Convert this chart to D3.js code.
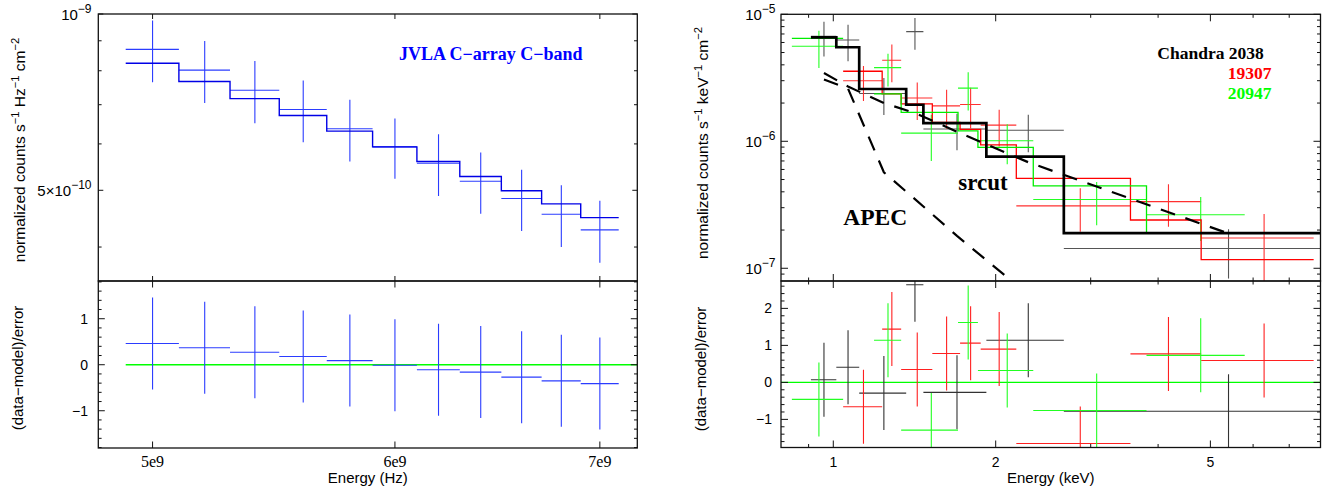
<!DOCTYPE html>
<html>
<head>
<meta charset="utf-8">
<script src="https://cdn.jsdelivr.net/npm/d3@7"></script>
<style>
body { margin: 0; background: #fff; }
svg { display: block; }
text { white-space: pre; }
</style>
</head>
<body>
<svg id="chart" width="1330" height="487"></svg>
<script>
// ---- radio (JVLA) spectrum, left panel ----
var radioFreq = [5.0e9, 5.2e9, 5.4e9, 5.6e9, 5.8e9, 6.0e9, 6.2e9, 6.4e9, 6.6e9, 6.8e9, 7.0e9];
var radioHalfWidth = 0.1e9;
var radioFlux = [8.70e-10, 8.02e-10, 7.41e-10, 6.87e-10, 6.37e-10, 5.93e-10, 5.56e-10, 5.18e-10, 4.84e-10, 4.55e-10, 4.28e-10];
var radioErr = [1.05e-10, 0.97e-10, 0.90e-10, 0.83e-10, 0.77e-10, 0.70e-10, 0.67e-10, 0.62e-10, 0.58e-10, 0.55e-10, 0.52e-10];
var radioModel = [8.24e-10, 7.67e-10, 7.17e-10, 6.71e-10, 6.31e-10, 5.93e-10, 5.60e-10, 5.28e-10, 4.99e-10, 4.74e-10, 4.49e-10];
var radioResid = [0.46, 0.37, 0.27, 0.18, 0.09, -0.01, -0.11, -0.16, -0.27, -0.35, -0.41];

// ---- X-ray spectra, right panel (keV) ----
// Chandra 2038 (black)
var obs2038Lo = [0.909, 1.013, 1.117, 1.365, 1.469, 1.922, 2.675];
var obs2038Hi = [1.013, 1.117, 1.365, 1.469, 1.922, 2.675, 8.13];
var obs2038Flux = [6.7e-6, 6.27e-6, 2.38e-6, 7.3e-6, 1.25e-6, 1.22e-6, 1.43e-7];
var obs2038Err = [2.05e-6, 2.0e-6, 0.77e-6, 2.05e-6, 0.40e-6, 0.40e-6, 0.6e-7];
var obs2038Model = [6.59e-6, 5.50e-6, 2.58e-6, 1.94e-6, 1.39e-6, 7.56e-7, 1.89e-7];
var obs2038Resid = [0.07, 0.41, -0.29, 2.64, -0.27, 1.14, -0.78];
// 19307 (red)
var obs19307Lo = [1.043, 1.232, 1.336, 1.526, 1.718, 1.876, 2.184, 3.555, 4.807];
var obs19307Hi = [1.232, 1.336, 1.526, 1.718, 1.876, 2.184, 3.555, 4.807, 7.77];
var obs19307Flux = [3.0e-6, 4.35e-6, 2.19e-6, 1.9e-6, 1.95e-6, 1.34e-6, 3.1e-7, 3.35e-7, 1.73e-7];
var obs19307Err = [0.92e-6, 1.43e-6, 0.72e-6, 0.645e-6, 0.69e-6, 0.43e-6, 1.16e-7, 1.23e-7, 0.94e-7];
var obs19307Model = [3.56e-6, 2.36e-6, 1.97e-6, 1.41e-6, 1.24e-6, 9.37e-7, 5.1e-7, 2.40e-7, 1.17e-7];
var obs19307Resid = [-0.66, 1.44, 0.35, 0.78, 1.06, 0.90, -1.65, 0.77, 0.59];
// 20947 (green)
var obs20947Lo = [0.838, 1.190, 1.336, 1.703, 1.854, 2.348, 3.807];
var obs20947Hi = [1.043, 1.336, 1.703, 1.854, 2.348, 3.807, 5.789];
var obs20947Flux = [5.6e-6, 3.8e-6, 1.16e-6, 2.62e-6, 1.01e-6, 3.48e-7, 2.64e-7];
var obs20947Err = [1.83e-6, 1.1e-6, 0.46e-6, 0.87e-6, 0.35e-6, 1.3e-7, 1.0e-7];
var obs20947Model = [6.47e-6, 2.36e-6, 1.69e-6, 1.21e-6, 8.95e-7, 4.45e-7, 1.89e-7];
var obs20947Resid = [-0.46, 1.14, -1.29, 1.62, 0.32, -0.76, 0.73];
// model components (evaluated at the 2038 bin centres)
var compEnergy = [0.961, 1.065, 1.241, 1.417, 1.6955, 2.2985, 5.40];
var srcutFlux = [3.45e-6, 2.70e-6, 2.0e-6, 1.67e-6, 1.19e-6, 6.84e-7, 1.88e-7];
var apecFlux = [3.07e-6, 2.60e-6, 5.7e-7, 3.5e-7, 1.8e-7, 6.2e-8];

// ---- ticks ----
var radioYMajor = [5e-10, 1e-9];
var radioYMinor = [4e-10, 6e-10, 7e-10, 8e-10, 9e-10];
var radioXTicks = [5e9, 6e9, 7e9];
var radioXLabels = ["5e9", "6e9", "7e9"];
var xrayYMajor = [1e-7, 1e-6, 1e-5];
var xrayYMinor = [9e-8, 2e-7, 3e-7, 4e-7, 5e-7, 6e-7, 7e-7, 8e-7, 9e-7, 2e-6, 3e-6, 4e-6, 5e-6, 6e-6, 7e-6, 8e-6, 9e-6];
var xrayXMajor = [1, 2, 5];
var xrayXMinor = [0.9, 3, 4, 6, 7, 8];
var radioResMajor = [-1, 0, 1];
var xrayResMajor = [-1, 0, 1, 2];

var svg = d3.select("#chart");
var SANS = "Liberation Sans, Arial, sans-serif";
var SERIF = "Liberation Serif, Times New Roman, serif";

// panel boxes
var L = { x0: 98.3, x1: 637.3, top: 14, mid: 281, bot: 448 };
var R = { x0: 781, x1: 1320.5, top: 14.3, mid: 281, bot: 447.5 };

var xL = d3.scaleLog().domain([4.8e9, 7.2e9]).range([L.x0, L.x1]);
var yL = d3.scaleLog().domain([3.5e-10, 1e-9]).range([L.mid, L.top]);
var rL = d3.scaleLinear().domain([-1.81, 1.82]).range([L.bot, L.mid]);
var xR = d3.scaleLog().domain([0.8, 8.0]).range([R.x0, R.x1]);
var yR = d3.scaleLog().domain([7.94e-8, 1e-5]).range([R.mid, R.top]);
var rR = d3.scaleLinear().domain([-1.76, 2.74]).range([R.bot, R.mid]);

var defs = svg.append("defs");
function clip(id, x0, x1, y0, y1) {
    defs.append("clipPath").attr("id", id).append("rect")
        .attr("x", x0).attr("y", y0).attr("width", x1 - x0).attr("height", y1 - y0);
    return svg.append("g").attr("clip-path", "url(#" + id + ")");
}

function seg(g, x1, y1, x2, y2, color, w) {
    g.append("line").attr("x1", x1).attr("y1", y1).attr("x2", x2).attr("y2", y2)
        .attr("stroke", color).attr("stroke-width", w);
}

// data crosses: bin width horizontally, error vertically
function crosses(g, lo, hi, val, err, x, y, color) {
    for (var i = 0; i < lo.length; i++) {
        var c = (lo[i] + hi[i]) / 2;
        var e = err ? err[i] : 1;
        seg(g, x(lo[i]), y(val[i]), x(hi[i]), y(val[i]), color, 1.1);
        seg(g, x(c), y(val[i] - e), x(c), y(val[i] + e), color, 1.1);
    }
}

// model histogram, broken where bins are not adjacent
function steps(g, lo, hi, m, x, y, color, w) {
    var d = "";
    for (var i = 0; i < lo.length; i++) {
        var joined = i > 0 && Math.abs(lo[i] - hi[i - 1]) < 0.01 * lo[i];
        d += (joined ? "L" : "M") + x(lo[i]) + "," + y(m[i]) + "H" + x(hi[i]);
    }
    g.append("path").attr("d", d).attr("fill", "none").attr("stroke", color).attr("stroke-width", w);
}

function richText(g, x, y, parts, size, anchor, supRatio) {
    var ratio = supRatio || 0.72;
    var t = g.append("text").attr("x", x).attr("y", y).attr("font-size", size)
        .attr("text-anchor", anchor).attr("font-family", SANS).attr("fill", "#000");
    var up = false;
    parts.forEach(function (p) {
        var s = typeof p === "string" ? { t: p, sup: false } : p;
        var ts = t.append("tspan").text(s.t);
        if (s.sup) {
            ts.attr("font-size", size * ratio);
            if (!up) { ts.attr("dy", -size * 0.42); up = true; }
        } else if (up) {
            ts.attr("dy", size * 0.42); up = false;
        }
    });
    return t;
}

// frame + inward ticks for one panel
function frame(P, yTop, yBot, xScale, xMaj, xMin, yScale, yMaj, yMin, majLen, minLen) {
    var g = svg.append("g");
    var st = "#111";
    xMaj.forEach(function (v) {
        seg(g, xScale(v), yTop, xScale(v), yTop + majLen, st, 1);
        seg(g, xScale(v), yBot, xScale(v), yBot - majLen, st, 1);
    });
    xMin.forEach(function (v) {
        seg(g, xScale(v), yTop, xScale(v), yTop + minLen, st, 1);
        seg(g, xScale(v), yBot, xScale(v), yBot - minLen, st, 1);
    });
    yMaj.forEach(function (v) {
        seg(g, P.x0, yScale(v), P.x0 + majLen, yScale(v), st, 1);
        seg(g, P.x1, yScale(v), P.x1 - majLen, yScale(v), st, 1);
    });
    yMin.forEach(function (v) {
        seg(g, P.x0, yScale(v), P.x0 + minLen, yScale(v), st, 1);
        seg(g, P.x1, yScale(v), P.x1 - minLen, yScale(v), st, 1);
    });
    g.append("rect").attr("x", P.x0).attr("y", yTop).attr("width", P.x1 - P.x0).attr("height", yBot - yTop)
        .attr("fill", "none").attr("stroke", st).attr("stroke-width", 1.3);
}

function resMinor(lo, hi) {
    var out = [];
    for (var v = Math.ceil(lo * 5); v <= Math.floor(hi * 5); v++) {
        if (v % 5 !== 0) out.push(v / 5);
    }
    return out;
}

// ================= LEFT: radio =================
var gL = clip("clipLT", L.x0, L.x1, L.top, L.mid);
var radioLo = radioFreq.map(function (f) { return f - radioHalfWidth; });
var radioHi = radioFreq.map(function (f) { return f + radioHalfWidth; });
crosses(gL, radioLo, radioHi, radioFlux, radioErr, xL, yL, "#2b3cff");
steps(gL, radioLo, radioHi, radioModel, xL, yL, "#0000e6", 1.4);

var gLr = clip("clipLB", L.x0, L.x1, L.mid, L.bot);
seg(gLr, xL(radioLo[0]), rL(0), L.x1, rL(0), "#00ff00", 1.3);
crosses(gLr, radioLo, radioHi, radioResid, null, xL, rL, "#2b3cff");

frame(L, L.top, L.mid, xL, radioXTicks, [], yL, radioYMajor, radioYMinor, 5, 3.3);
frame(L, L.mid, L.bot, xL, radioXTicks, [], rL, radioResMajor, resMinor(-1.81, 1.82), 6.5, 3.3);

// left labels
richText(svg, 91.5, yL(1e-9) + 5.5, ["10", { t: "−9", sup: true }], 15, "end", 0.8);
richText(svg, 91.5, yL(5e-10) + 5.5, ["5×10", { t: "−10", sup: true }], 15, "end", 0.8);
radioResMajor.forEach(function (v) {
    svg.append("text").attr("x", 88).attr("y", rL(v) + 5).attr("text-anchor", "end")
        .attr("font-family", SANS).attr("font-size", 14).text(v < 0 ? "−" + (-v) : String(v));
});
radioXTicks.forEach(function (v, i) {
    svg.append("text").attr("x", xL(v)).attr("y", 467).attr("text-anchor", "middle")
        .attr("font-family", SERIF).attr("font-size", 16).text(radioXLabels[i]);
});
svg.append("text").attr("x", (L.x0 + L.x1) / 2).attr("y", 483).attr("text-anchor", "middle")
    .attr("font-family", SANS).attr("font-size", 15).text("Energy (Hz)");
var tl = svg.append("g").attr("transform", "translate(25,150) rotate(-90)");
richText(tl, 0, 0, ["normalized counts s", { t: "−1", sup: true }, " Hz", { t: "−1", sup: true }, " cm", { t: "−2", sup: true }], 15.5, "middle");
svg.append("g").attr("transform", "translate(23,368) rotate(-90)")
    .append("text").attr("text-anchor", "middle").attr("font-family", SANS).attr("font-size", 15)
    .text("(data−model)/error");
svg.append("text").attr("x", 399).attr("y", 60).attr("font-family", SERIF).attr("font-weight", "bold")
    .attr("font-size", 18).attr("fill", "#0000ff").text("JVLA C−array C−band");

// ================= RIGHT: X-ray =================
var gR = clip("clipRT", R.x0, R.x1, R.top, R.mid);
crosses(gR, obs2038Lo, obs2038Hi, obs2038Flux, obs2038Err, xR, yR, "#555");
crosses(gR, obs19307Lo, obs19307Hi, obs19307Flux, obs19307Err, xR, yR, "#ff3030");
crosses(gR, obs20947Lo, obs20947Hi, obs20947Flux, obs20947Err, xR, yR, "#22ff22");
steps(gR, obs19307Lo, obs19307Hi, obs19307Model, xR, yR, "#ff0000", 1.3);
steps(gR, obs20947Lo, obs20947Hi, obs20947Model, xR, yR, "#00ee00", 1.3);
steps(gR, obs2038Lo, obs2038Hi, obs2038Model, xR, yR, "#000", 2.7);

var compLine = d3.line().x(function (d) { return xR(d[0]); }).y(function (d) { return yR(d[1]); });
gR.append("path").attr("d", compLine(compEnergy.map(function (e, i) { return [e, srcutFlux[i]]; })))
    .attr("fill", "none").attr("stroke", "#000").attr("stroke-width", 2.2).attr("stroke-dasharray", "15,11");
gR.append("path").attr("d", compLine(apecFlux.map(function (f, i) { return [compEnergy[i], f]; })))
    .attr("fill", "none").attr("stroke", "#000").attr("stroke-width", 2.2).attr("stroke-dasharray", "15,11");

var gRr = clip("clipRB", R.x0, R.x1, R.mid, R.bot);
seg(gRr, R.x0, rR(0), R.x1, rR(0), "#00ff00", 1.3);
crosses(gRr, obs2038Lo, obs2038Hi, obs2038Resid, null, xR, rR, "#333");
crosses(gRr, obs19307Lo, obs19307Hi, obs19307Resid, null, xR, rR, "#ff2020");
crosses(gRr, obs20947Lo, obs20947Hi, obs20947Resid, null, xR, rR, "#22ff22");

frame(R, R.top, R.mid, xR, xrayXMajor, xrayXMinor, yR, xrayYMajor, xrayYMinor, 7, 3.5);
frame(R, R.mid, R.bot, xR, xrayXMajor, xrayXMinor, rR, xrayResMajor, resMinor(-1.76, 2.74), 7, 3.5);

// right labels
[[1e-5, "−5"], [1e-6, "−6"], [1e-7, "−7"]].forEach(function (d) {
    richText(svg, 775.5, yR(d[0]) + 5.5, ["10", { t: d[1], sup: true }], 15, "end", 0.8);
});
xrayResMajor.forEach(function (v) {
    svg.append("text").attr("x", 772).attr("y", rR(v) + 5).attr("text-anchor", "end")
        .attr("font-family", SANS).attr("font-size", 14).text(v < 0 ? "−" + (-v) : String(v));
});
xrayXMajor.forEach(function (v) {
    svg.append("text").attr("x", xR(v)).attr("y", 467).attr("text-anchor", "middle")
        .attr("font-family", SANS).attr("font-size", 14).text(String(v));
});
svg.append("text").attr("x", (R.x0 + R.x1) / 2).attr("y", 483).attr("text-anchor", "middle")
    .attr("font-family", SANS).attr("font-size", 15).text("Energy (keV)");
var tr = svg.append("g").attr("transform", "translate(708,143) rotate(-90)");
richText(tr, 0, 0, ["normalized counts s", { t: "−1", sup: true }, " keV", { t: "−1", sup: true }, " cm", { t: "−2", sup: true }], 15.5, "middle");
svg.append("g").attr("transform", "translate(706,369) rotate(-90)")
    .append("text").attr("text-anchor", "middle").attr("font-family", SANS).attr("font-size", 15)
    .text("(data−model)/error");

function bold(x, y, size, color, txt) {
    svg.append("text").attr("x", x).attr("y", y).attr("font-family", SERIF).attr("font-weight", "bold")
        .attr("font-size", size).attr("fill", color).text(txt);
}
bold(1157.3, 59.3, 17.5, "#000", "Chandra 2038");
bold(1227.7, 79.3, 17.5, "#ff0000", "19307");
bold(1227.7, 99, 17.5, "#00ff00", "20947");
bold(958.3, 190, 23, "#000", "srcut");
bold(843.3, 225, 23.5, "#000", "APEC");
</script>
</body>
</html>
